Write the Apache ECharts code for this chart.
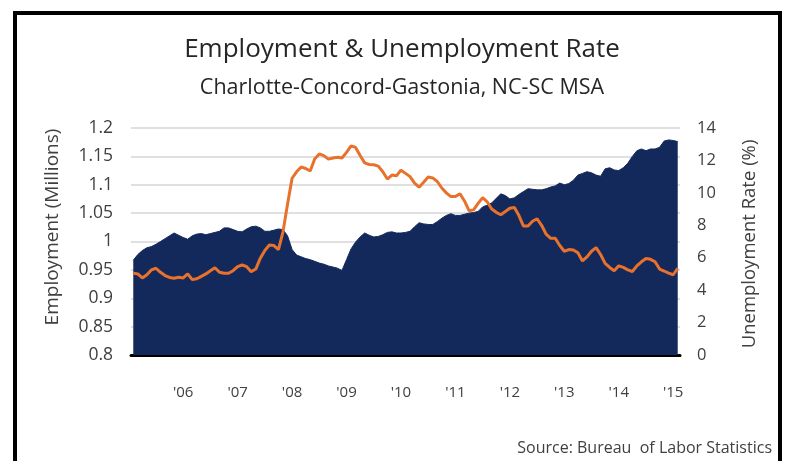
<!DOCTYPE html>
<html><head><meta charset="utf-8">
<script src="https://cdn.jsdelivr.net/npm/echarts@6/dist/echarts.min.js"></script>
<style>html,body{margin:0;padding:0;background:#fff}#c{width:785px;height:461px}</style>
</head><body><div id="c"></div>
<script>
const titleText = 'Employment & Unemployment Rate';
const subtitleText = 'Charlotte-Concord-Gastonia, NC-SC MSA';
const sourceText = 'Source: Bureau  of Labor Statistics';
const leftAxisName = 'Employment (Millions)';
const rightAxisName = 'Unemployment Rate (%)';

const months = [
  '2005-02','2005-03','2005-04','2005-05','2005-06','2005-07','2005-08','2005-09','2005-10','2005-11','2005-12',
  '2006-01','2006-02','2006-03','2006-04','2006-05','2006-06','2006-07','2006-08','2006-09','2006-10','2006-11','2006-12',
  '2007-01','2007-02','2007-03','2007-04','2007-05','2007-06','2007-07','2007-08','2007-09','2007-10','2007-11','2007-12',
  '2008-01','2008-02','2008-03','2008-04','2008-05','2008-06','2008-07','2008-08','2008-09','2008-10','2008-11','2008-12',
  '2009-01','2009-02','2009-03','2009-04','2009-05','2009-06','2009-07','2009-08','2009-09','2009-10','2009-11','2009-12',
  '2010-01','2010-02','2010-03','2010-04','2010-05','2010-06','2010-07','2010-08','2010-09','2010-10','2010-11','2010-12',
  '2011-01','2011-02','2011-03','2011-04','2011-05','2011-06','2011-07','2011-08','2011-09','2011-10','2011-11','2011-12',
  '2012-01','2012-02','2012-03','2012-04','2012-05','2012-06','2012-07','2012-08','2012-09','2012-10','2012-11','2012-12',
  '2013-01','2013-02','2013-03','2013-04','2013-05','2013-06','2013-07','2013-08','2013-09','2013-10','2013-11','2013-12',
  '2014-01','2014-02','2014-03','2014-04','2014-05','2014-06','2014-07','2014-08','2014-09','2014-10','2014-11','2014-12',
  '2015-01','2015-02'
];

// Employment, millions (left axis)
const employment = [
  0.967,0.977,0.984,0.989,0.991,0.995,1.000,1.005,1.010,1.015,1.011,
  1.007,1.004,1.010,1.013,1.014,1.012,1.014,1.016,1.018,1.024,1.024,1.021,
  1.018,1.017,1.022,1.026,1.027,1.024,1.018,1.018,1.020,1.022,1.021,1.010,
  0.986,0.976,0.973,0.970,0.968,0.965,0.962,0.960,0.957,0.955,0.953,0.949,
  0.968,0.987,0.999,1.008,1.015,1.011,1.008,1.009,1.012,1.016,1.017,1.015,
  1.015,1.016,1.018,1.026,1.033,1.031,1.030,1.030,1.035,1.041,1.046,1.049,
  1.046,1.046,1.048,1.050,1.051,1.053,1.061,1.064,1.068,1.076,1.084,1.081,
  1.075,1.077,1.083,1.088,1.093,1.092,1.091,1.091,1.093,1.096,1.098,1.103,
  1.100,1.102,1.108,1.117,1.120,1.123,1.121,1.117,1.115,1.128,1.130,1.126,
  1.125,1.130,1.138,1.150,1.160,1.163,1.160,1.163,1.163,1.166,1.177,1.179,
  1.178,1.176
];

// Unemployment rate, % (right axis)
const unemploymentRate = [
  5.05,5.00,4.75,4.95,5.25,5.35,5.10,4.90,4.78,4.73,4.80,
  4.75,5.00,4.65,4.70,4.85,5.00,5.20,5.38,5.10,5.04,5.04,5.20,
  5.45,5.55,5.45,5.14,5.30,5.97,6.45,6.78,6.75,6.50,7.60,9.30,
  10.9,11.3,11.6,11.5,11.35,12.1,12.4,12.3,12.08,12.15,12.2,12.15,
  12.5,12.9,12.8,12.3,11.85,11.75,11.73,11.65,11.3,10.85,11.1,11.05,
  11.4,11.2,11.0,10.6,10.35,10.65,10.98,10.92,10.7,10.3,10.0,9.77,
  9.77,9.95,9.5,8.9,8.95,9.35,9.7,9.45,9.0,8.8,8.65,8.85,
  9.05,9.1,8.6,7.95,7.95,8.25,8.4,8.0,7.45,7.2,7.2,6.75,
  6.4,6.5,6.48,6.3,5.8,6.05,6.4,6.62,6.2,5.65,5.4,5.2,
  5.5,5.4,5.25,5.15,5.5,5.75,5.95,5.9,5.75,5.3,5.18,5.05,
  4.95,5.35
];

const FONT = '"Open Sans", Lato, sans-serif';
const TXT = '#404040';
const NAVY = '#14295b';
const ORANGE = '#e8722c';

const chart = echarts.init(document.getElementById('c'), null, {renderer: 'canvas'});
chart.setOption({
  animation: false,
  backgroundColor: '#ffffff',
  textStyle: {fontFamily: FONT},
  title: [
    {text: titleText, left: 397, textAlign: 'center', top: 32,
     textStyle: {fontFamily: FONT, fontSize: 26, fontWeight: 'normal', color: '#262626'}},
    {text: subtitleText, left: 397, textAlign: 'center', top: 72,
     textStyle: {fontFamily: FONT, fontSize: 21.5, fontWeight: 'normal', color: '#262626'}},
    {text: sourceText, right: 8, top: 435,
     textStyle: {fontFamily: FONT, fontSize: 16, fontWeight: 'normal', color: TXT}}
  ],
  graphic: [
    {type: 'rect', z: -10, shape: {x: 15, y: 13, width: 765, height: 480},
     style: {fill: 'none', stroke: '#000', lineWidth: 4}},
    {type: 'text', x: 53, y: 227, rotation: Math.PI / 2,
     style: {text: leftAxisName, fontFamily: FONT, fontSize: 19, fill: TXT, textAlign: 'center', textVerticalAlign: 'middle'}},
    {type: 'text', x: 750, y: 244, rotation: Math.PI / 2,
     style: {text: rightAxisName, fontFamily: FONT, fontSize: 18.5, fill: TXT, textAlign: 'center', textVerticalAlign: 'middle'}}
  ],
  grid: {left: 131, right: 105, top: 128, bottom: 106, containLabel: false},
  xAxis: {
    type: 'category', data: months, boundaryGap: true,
    axisLine: {show: true, lineStyle: {color: '#000', width: 3}},
    axisTick: {show: false},
    axisLabel: {
      interval: (i, v) => v.slice(5) === '01',
      formatter: v => "'" + v.slice(2, 4),
      margin: 30, color: TXT, fontSize: 15, fontFamily: FONT
    },
    splitLine: {show: false}
  },
  yAxis: [
    {type: 'value', min: 0.8, max: 1.2, interval: 0.05, position: 'left',
     axisLine: {show: false}, axisTick: {show: false},
     axisLabel: {margin: 18, color: TXT, fontSize: 17.5, fontFamily: FONT,
       formatter: v => String(parseFloat(v.toFixed(2)))},
     splitLine: {show: true, lineStyle: {color: '#d6d6d6', width: 1.5}}},
    {type: 'value', min: 0, max: 14, interval: 2, position: 'right',
     axisLine: {show: false}, axisTick: {show: false},
     axisLabel: {margin: 17, color: TXT, fontSize: 16.5, fontFamily: FONT},
     splitLine: {show: false}}
  ],
  series: [
    {name: 'Employment', type: 'line', yAxisIndex: 0, data: employment,
     symbol: 'none', smooth: false,
     lineStyle: {color: NAVY, width: 1},
     itemStyle: {color: NAVY},
     areaStyle: {color: NAVY, opacity: 1, origin: 'start'}, z: 2},
    {name: 'Unemployment Rate', type: 'line', yAxisIndex: 1, data: unemploymentRate,
     symbol: 'none', smooth: false,
     lineStyle: {color: ORANGE, width: 3},
     itemStyle: {color: ORANGE}, z: 3}
  ]
});
</script>
</body></html>
